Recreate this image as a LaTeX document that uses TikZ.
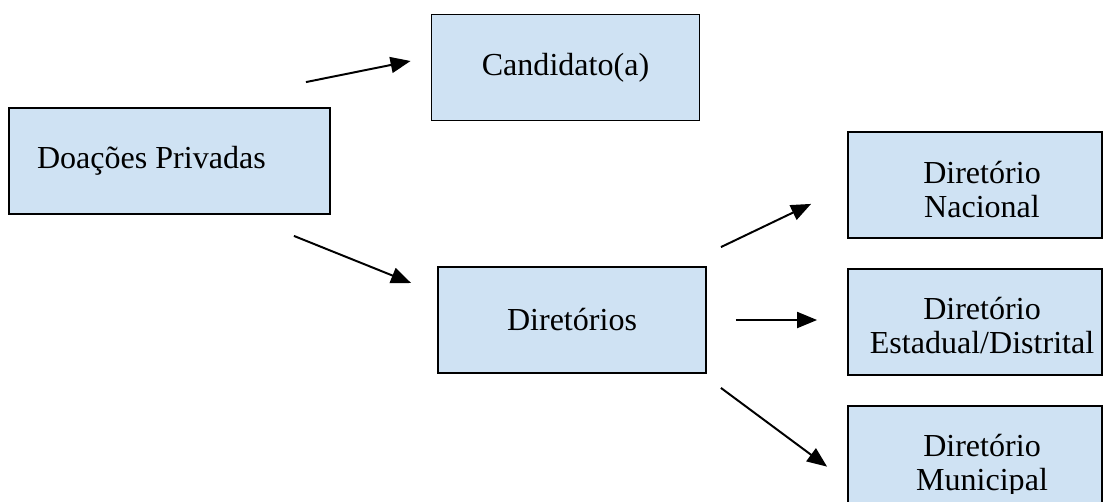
\documentclass[tikz,border=0pt]{standalone}
\usepackage{fontspec}
\setmainfont{Liberation Serif}
\usetikzlibrary{%
    arrows.meta,
    positioning
}

\definecolor{boxblue}{RGB}{207,226,243}

\tikzset{
    flowbox/.style={draw=black, fill=boxblue, line width=1.3pt,
                    minimum width=6.7cm, minimum height=2.65cm, inner sep=0pt,
                    font=\fontsize{22.8}{24.6}\selectfont},
    lvltext/.style={anchor=base, inner sep=0pt,
                    font=\fontsize{22.8}{24.6}\selectfont},
    flowarrow/.style={-{Triangle[length=0.5cm,width=0.4cm]}, line width=1.4pt}
}

\begin{document}
\begin{tikzpicture}
    \useasboundingbox (0,0) rectangle (27.575,-12.525);
    \clip (0,0) rectangle (27.575,-12.525);

    \node[flowbox, text width=6.625cm, align=flush left, inner xsep=0.7cm]
        (doacoes) at (4.2375,-4.025) {Doações Privadas};
    \node[flowbox] (candidato)  at (14.1375,-1.6875) {Candidato(a)};
    \node[flowbox] (diretorios) at (14.3,-8.0)       {Diretórios};

    \node[flowbox, minimum width=6.35cm] (nacional) at (24.375,-4.625) {};
    \node[flowbox, minimum width=6.35cm, below=0.725cm of nacional]  (estadual)  {};
    \node[flowbox, minimum width=6.35cm, below=0.725cm of estadual]  (municipal) {};

    % second lines are cut off at the bottom of their text frames
    \begin{scope}
        \clip (nacional.north west)  rectangle ([yshift=-2.2cm]nacional.north east)
              (estadual.north west)  rectangle ([yshift=-2.16cm]estadual.north east)
              (municipal.north west) rectangle ([yshift=-2.23cm]municipal.north east);
        \foreach \Box/\Second in {nacional/Nacional,
                                  estadual/{Estadual/Distrital},
                                  municipal/Municipal} {
            \node[lvltext] (\Box-1) at ([xshift=0.175cm, yshift=-1.3cm]\Box.north)  {Diretório};
            \node[lvltext] (\Box-2) at ([xshift=0.175cm, yshift=-2.15cm]\Box.north) {\Second};
        }
    \end{scope}

    \draw[flowarrow] ([shift={(-0.625,0.625)}]doacoes.north east)
                  -- ([shift={(-0.5,0.1625)}]candidato.west);
    \draw[flowarrow] ([shift={(-0.925,-0.525)}]doacoes.south east)
                  -- ([shift={(-0.65,0.925)}]diretorios.west);

    \draw[flowarrow] ([shift={(0.35,0.475)}]diretorios.north east)
                  -- ([shift={(-0.9,0.875)}]nacional.south west);
    \draw[flowarrow] ([xshift=0.725cm]diretorios.east)
                  -- ([xshift=-0.75cm]estadual.west |- diretorios.east);
    \draw[flowarrow] ([shift={(0.35,-0.35)}]diretorios.south east)
                  -- ([shift={(-0.5,-0.2)}]municipal.west);
\end{tikzpicture}
\end{document}
